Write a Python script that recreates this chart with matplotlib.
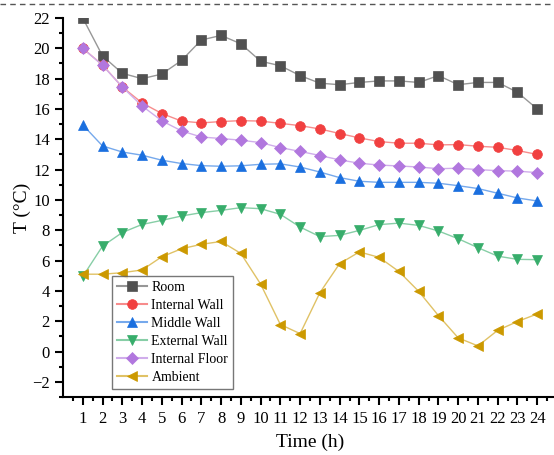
import numpy as np
import matplotlib.pyplot as plt
from matplotlib.lines import Line2D
from matplotlib.colors import to_rgb

plt.rcParams['font.family'] = ['Liberation Serif', 'DejaVu Serif']

# time axis (h)
hours = list(range(1, 25))

# temperatures
room = [22.0, 19.5, 18.35, 18.0, 18.3, 19.2, 20.55, 20.85, 20.3, 19.15, 18.85, 18.2,
        17.7, 17.6, 17.75, 17.85, 17.85, 17.75, 18.2, 17.6, 17.75, 17.75, 17.1, 16.0]
internal_wall = [20.0, 18.9, 17.45, 16.4, 15.7, 15.2, 15.08, 15.17, 15.23, 15.2, 15.05, 14.9,
                 14.68, 14.38, 14.09, 13.85, 13.74, 13.74, 13.63, 13.65, 13.54, 13.47, 13.26, 13.0]
middle_wall = [14.95, 13.56, 13.16, 12.95, 12.62, 12.4, 12.26, 12.22, 12.25, 12.35, 12.38, 12.17,
               11.84, 11.47, 11.23, 11.16, 11.16, 11.16, 11.1, 10.94, 10.75, 10.44, 10.13, 9.93]
external_wall = [4.95, 6.95, 7.85, 8.38, 8.65, 8.94, 9.16, 9.31, 9.49, 9.42, 9.05, 8.21,
                 7.58, 7.66, 7.99, 8.37, 8.47, 8.32, 7.95, 7.44, 6.85, 6.29, 6.08, 6.06]
internal_floor = [20.0, 18.88, 17.45, 16.2, 15.22, 14.55, 14.15, 14.05, 13.94, 13.78, 13.45, 13.2,
                  12.93, 12.64, 12.42, 12.3, 12.24, 12.17, 12.06, 12.09, 12.0, 11.93, 11.9, 11.8]
ambient = [5.1, 5.1, 5.2, 5.38, 6.25, 6.78, 7.07, 7.26, 6.47, 4.45, 1.78, 1.18,
           3.88, 5.8, 6.57, 6.21, 5.28, 3.97, 2.37, 0.9, 0.37, 1.4, 1.98, 2.48]

series = [
    ('Room', room, '#515151', 's', 6.5),
    ('Internal Wall', internal_wall, '#F14040', 'o', 7),
    ('Middle Wall', middle_wall, '#1A6FDF', '^', 7.5),
    ('External Wall', external_wall, '#37AD6B', 'v', 7.5),
    ('Internal Floor', internal_floor, '#B177DE', 'D', 6.5),
    ('Ambient', ambient, '#CC9900', '<', 7.5),
]


def faded(col, a=0.5):
    # line colour = marker colour washed out toward white
    r, g, b = to_rgb(col)
    return (1 - a + a * r, 1 - a + a * g, 1 - a + a * b)


fig = plt.figure(figsize=(5.54, 4.55), dpi=100)
ax = fig.add_axes([63 / 554, 58 / 455, 494 / 554, 379 / 455])

for name, vals, col, mk, ms in series:
    ax.plot(hours, vals, '-', color=faded(col, 0.6), lw=1.0, marker=mk, ms=ms,
            mfc=col, mec=col, mew=0.5, label=name)

leg = ax.legend(loc='lower left', bbox_to_anchor=(0.099, 0.021),
                borderaxespad=0, fontsize=10, frameon=True, fancybox=False,
                edgecolor='#555555', handlelength=2.2, handletextpad=0.3,
                labelspacing=0.36, borderpad=0.35)
leg.get_frame().set_linewidth(1.0)
for ln in leg.get_lines():
    ln.set_linewidth(1.5)

ax.set_xlim(0, 25)
ax.set_ylim(-3, 22)
ax.set_xticks(hours)
ax.set_xticks(np.arange(0.5, 25, 1.0), minor=True)
ax.set_yticks(range(-2, 23, 2))
ax.set_yticks(range(-3, 22, 2), minor=True)

ax.spines['top'].set_visible(False)
ax.spines['right'].set_visible(False)
ax.spines['left'].set_linewidth(1.5)
ax.spines['bottom'].set_linewidth(1.5)
ax.tick_params(which='major', direction='out', length=6, width=1.5, labelsize=12)
ax.tick_params(which='minor', direction='out', length=3, width=1.5)
ax.tick_params(axis='x', pad=4)

ax.set_xlabel('Time (h)', fontsize=14, labelpad=5)
ax.set_ylabel('T (°C)', fontsize=14, labelpad=1)

# dashed page border at the top
fig.add_artist(Line2D([0, 1], [1 - 4 / 455, 1 - 4 / 455], transform=fig.transFigure,
                      color='#555555', lw=1.0, ls=(0, (4, 3))))

fig.savefig('out.png', dpi=100)
